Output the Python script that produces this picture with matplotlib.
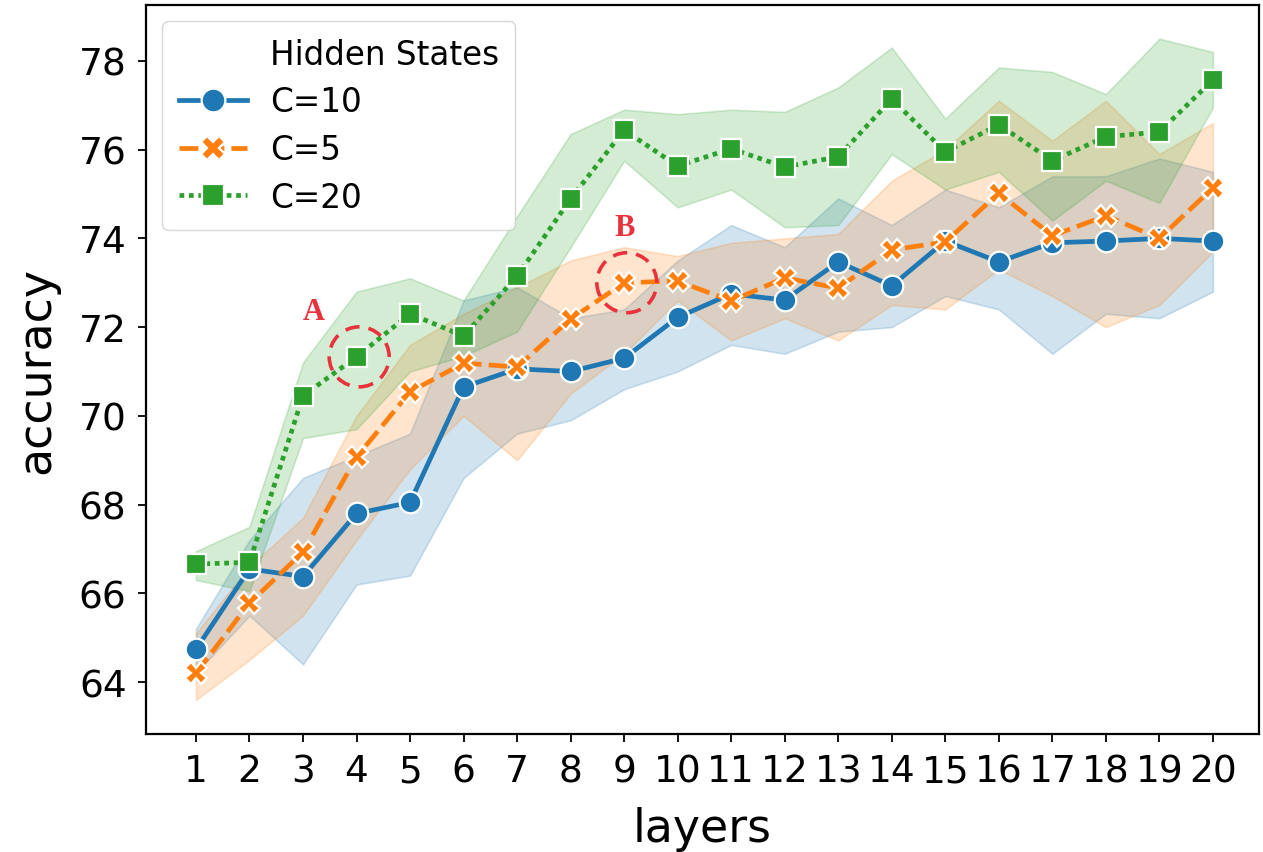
import numpy as np
import matplotlib
matplotlib.use("Agg")
import matplotlib.pyplot as plt
from matplotlib.patches import Ellipse
from matplotlib.lines import Line2D

# ── Data ──────────────────────────────────────────────────────────────────────
layers = list(range(1, 21))

c10_mean = [64.74, 66.55, 66.38, 67.80, 68.05, 70.65, 71.06, 71.00, 71.30, 72.22,
            72.75, 72.61, 73.47, 72.93, 73.94, 73.47, 73.90, 73.94, 74.00, 73.94]
c10_hi   = [65.20, 67.20, 68.60, 69.10, 69.60, 72.60, 72.90, 72.20, 72.40, 73.50,
            74.30, 73.80, 74.90, 74.30, 75.10, 74.70, 75.40, 75.40, 75.80, 75.50]
c10_lo   = [64.20, 65.50, 64.40, 66.20, 66.40, 68.60, 69.60, 69.90, 70.60, 71.00,
            71.60, 71.40, 71.90, 72.00, 72.70, 72.40, 71.40, 72.30, 72.20, 72.80]

c5_mean  = [64.20, 65.78, 66.93, 69.07, 70.54, 71.19, 71.10, 72.18, 73.00, 73.04,
            72.59, 73.11, 72.88, 73.74, 73.92, 75.02, 74.06, 74.51, 74.00, 75.14]
c5_hi    = [65.10, 66.60, 67.70, 70.00, 71.60, 72.30, 72.90, 73.50, 73.80, 73.60,
            73.90, 74.00, 74.10, 75.30, 76.00, 77.10, 76.20, 77.10, 75.90, 76.60]
c5_lo    = [63.60, 64.50, 65.50, 67.20, 68.80, 70.00, 69.00, 70.50, 71.40, 72.60,
            71.70, 72.20, 71.70, 72.50, 72.40, 73.30, 72.70, 72.00, 72.50, 73.70]

c20_mean = [66.66, 66.70, 70.45, 71.33, 72.30, 71.80, 73.15, 74.89, 76.44, 75.63,
            76.02, 75.61, 75.84, 77.14, 75.95, 76.56, 75.75, 76.29, 76.40, 77.57]
c20_hi   = [66.95, 67.50, 71.20, 72.80, 73.10, 72.60, 74.50, 76.35, 76.90, 76.80,
            76.90, 76.85, 77.40, 78.30, 76.70, 77.85, 77.75, 77.25, 78.50, 78.20]
c20_lo   = [66.30, 66.05, 69.50, 69.70, 71.00, 71.35, 71.90, 73.80, 75.75, 74.70,
            75.10, 74.25, 74.30, 75.90, 75.10, 75.50, 74.40, 75.30, 74.80, 76.95]

series_labels = ["C=10", "C=5", "C=20"]
legend_title = "Hidden States"

# ── Styles ────────────────────────────────────────────────────────────────────
COLORS  = ["#1f77b4", "#ff7f0e", "#2ca02c"]
MARKERS = ["o", "X", "s"]
DASHES  = [None, (4, 1.5), (1, 1)]
RED     = "#e8323c"

fig = plt.figure(figsize=(12.63, 8.53), dpi=100)
ax = fig.add_axes([0.1156, 0.1383, 0.8812, 0.8547])

series = [(c10_mean, c10_lo, c10_hi), (c5_mean, c5_lo, c5_hi), (c20_mean, c20_lo, c20_hi)]
handles = [Line2D([], [], linestyle="none", marker="none")]
for (m, lo, hi), col, mk, dsh, lab in zip(series, COLORS, MARKERS, DASHES, series_labels):
    ax.fill_between(layers, lo, hi, color=col, alpha=0.2, lw=1.2, zorder=1)
    line, = ax.plot(layers, m, color=col, lw=3.4, marker=mk, ms=15.5 if mk != "s" else 14,
                    mec="white", mew=1.6, label=lab, zorder=3)
    if dsh is not None:
        line.set_dashes(dsh)
    handles.append(line)

# annotation circles A / B
px_x = 53.58   # pixels per layer
px_y = 44.36   # pixels per accuracy unit
for (xc, yc), txt, (dx, dy) in [((layers[3], c20_mean[3]), "A", (-31, 33)),
                                ((layers[8], c5_mean[8]), "B", (0, 40))]:
    ax.add_patch(Ellipse((xc + 0.05, yc), width=2 * 30 / px_x, height=2 * 30 / px_y,
                         fill=False, edgecolor=RED, lw=2.6, ls=(0, (4, 2.5)), zorder=4))
    ax.annotate(txt, (xc, yc), xytext=(dx, dy), textcoords="offset points",
                ha="center", va="center", color=RED, fontsize=22, fontweight="bold",
                family="Liberation Serif", zorder=5)

ax.set_xlim(0.067, 20.86)
ax.set_ylim(62.83, 79.26)
ax.set_xticks(layers)
ax.set_xticklabels([str(l) for l in layers])
ax.set_yticks(np.arange(64, 79, 2))
ax.tick_params(axis="both", labelsize=27, length=6, width=1.3, pad=8)
for sp in ax.spines.values():
    sp.set_linewidth(1.6)
ax.set_xlabel("layers", fontsize=33, labelpad=12)
ax.set_ylabel("accuracy", fontsize=33, labelpad=14)

ax.legend(handles, [legend_title] + series_labels, loc="upper left", fontsize=23.5,
          handlelength=2.1, handletextpad=0.7, framealpha=0.8, edgecolor="#cccccc",
          borderpad=0.5, labelspacing=0.45, markerscale=1.1)

plt.savefig("out.png", dpi=100)
plt.close()
